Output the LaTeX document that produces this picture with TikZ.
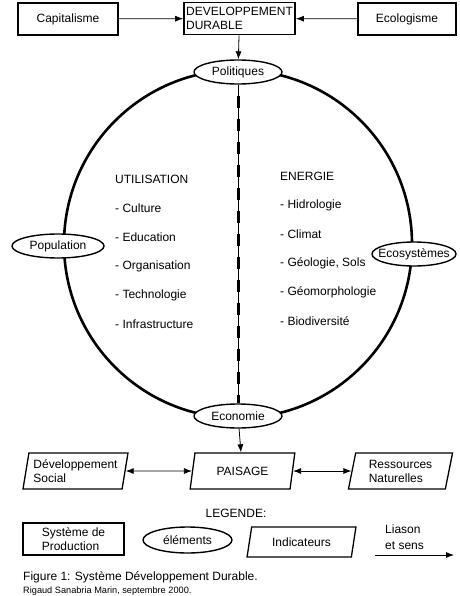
\documentclass[tikz,border=0pt]{standalone}
\usepackage{fontspec}
\setmainfont{Liberation Sans}
\usetikzlibrary{shapes.geometric,arrows.meta}
\tikzset{
  systeme/.style={draw,line width=1.7pt,minimum height=32pt,align=left,inner sep=2pt},
  element/.style={draw,ellipse,line width=1.4pt,fill=white,minimum width=88pt,minimum height=24pt,
    inner xsep=-6pt,inner ysep=0pt},
  indicateur/.style={draw,trapezium,trapezium left angle=79,trapezium right angle=101,
    trapezium stretches=true,line width=1.3pt,minimum width=105pt,minimum height=36pt,align=left},
  liaison/.style={-{Latex[length=8pt,width=6pt]},line width=0.8pt},
  liaisons/.style={{Latex[length=8pt,width=6pt]}-{Latex[length=8pt,width=6pt]},line width=0.8pt},
  liste/.style={anchor=west,inner sep=0pt}
}
\begin{document}
\begin{tikzpicture}[x=1pt,y=-1pt,font=\fontsize{12}{14}\selectfont]
  \useasboundingbox (0,0) rectangle (459,596);
  % systemes du haut
  \node[systeme,minimum width=100pt] (capital) at (68,19) {Capitalisme};
  \node[systeme,minimum width=111pt] (durable) at (239.5,18.5) {DEVELOPPEMENT\\DURABLE};
  \node[systeme,minimum width=98pt] (ecolo) at (407,19) {Ecologisme};
  \draw[liaison] (capital) -- (durable);
  \draw[liaison] (ecolo) -- (durable);
  % cercle
  \draw[line width=2.6pt] (238,244) circle (174pt);
  \node[element] (politiques) at (238,72) {Politiques};
  \node[element,minimum width=92pt] (population) at (58,246) {Population};
  \node[element,minimum width=84pt] (ecosys) at (414,254) {Ecosystèmes};
  \node[element] (economie) at (238,416) {Economie};
  \draw[liaison] (durable) -- (politiques);
  \draw[line width=0.8pt] (politiques.south) -- (economie.north);
  \draw[line width=3pt,dash pattern=on 12pt off 11pt,dash phase=-11pt] (politiques.south) -- (economie.north);
  % utilisation
  \node[liste] (util) at (115,179) {UTILISATION};
  \node[liste] (culture) at (115,208) {- Culture};
  \node[liste] (education) at (115,237) {- Education};
  \node[liste] (organisation) at (115,266) {- Organisation};
  \node[liste] (techno) at (115,295) {- Technologie};
  \node[liste] (infra) at (115,324) {- Infrastructure};
  % energie
  \node[liste] (energie) at (280,176) {ENERGIE};
  \node[liste] (hidro) at (280,205) {- Hidrologie};
  \node[liste] (climat) at (280,234) {- Climat};
  \node[liste] (geologie) at (280,263) {- Géologie, Sols};
  \node[liste] (geomorph) at (280,292) {- Géomorphologie};
  \node[liste] (biodiv) at (280,321) {- Biodiversité};
  % indicateurs
  \node[indicateur] (social) at (75.5,471) {Développement\\Social};
  \node[indicateur] (paisage) at (242.5,471) {PAISAGE};
  \node[indicateur] (ressources) at (400.5,471) {Ressources\\Naturelles};
  \draw[liaison] (economie) -- (paisage);
  \draw[liaisons] (social.east) -- (paisage.west);
  \draw[liaisons] (paisage.east) -- (ressources.west);
  % legende
  \node (legende) at (236,513) {LEGENDE:};
  \node[systeme,minimum width=101pt] (legsys) at (73.5,539) {Système de\\Production};
  \node[element,minimum width=89pt,minimum height=26pt] (legel) at (187.5,540) {éléments};
  \node[indicateur,minimum width=109pt,minimum height=30pt] (legind) at (301.5,542) {Indicateurs};
  \node[liste,align=left] (legtxt) at (385,537) {Liason\\[2pt]et sens};
  \coordinate (legdeb) at (375,555);
  \coordinate (legfin) at (454,555);
  \draw[liaison] (legdeb) -- (legfin);
  \node[liste] (figure) at (23,577) {Figure 1: Système Développement Durable.};
  \node[liste,font=\fontsize{9.2}{10}\selectfont] (auteur) at (23,591) {Rigaud Sanabria Marin, septembre 2000.};
\end{tikzpicture}
\end{document}
